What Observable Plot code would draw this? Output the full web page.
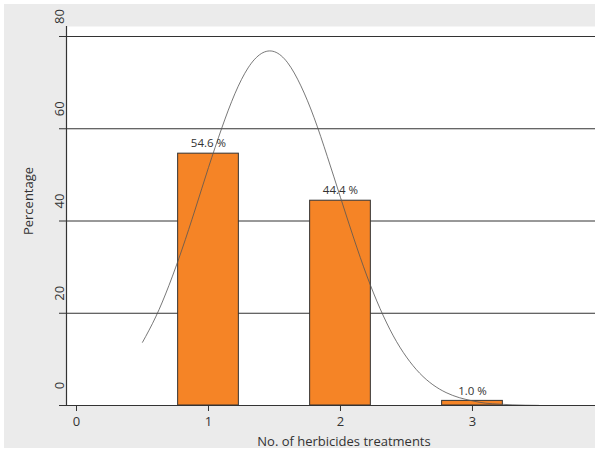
<!DOCTYPE html>
<html>
<head>
<meta charset="utf-8">
<script src="https://cdn.jsdelivr.net/npm/d3@7"></script>
<script src="https://cdn.jsdelivr.net/npm/@observablehq/plot@0.6"></script>
<style>
  html, body { margin: 0; padding: 0; background: #ffffff; }
  #wrap { padding: 4px 0 0 4px; width: 595px; height: 450px; box-sizing: border-box; }
  svg { font-family: "Open Sans", "Noto Sans", sans-serif; }
</style>
</head>
<body>
<div id="wrap"></div>
<script>
// Categories and values
const treatments = [1, 2, 3];
const percentages = [54.6, 44.4, 1.0];
const valueLabels = ["54.6 %", "44.4 %", "1.0 %"];
const xTicks = [0, 1, 2, 3];
const xTickLabels = ["0", "1", "2", "3"];
const yTicks = [0, 20, 40, 60, 80];
const yTickLabels = ["0", "20", "40", "60", "80"];
// Fitted normal curve
const curveX = [0.5, 0.6, 0.7, 0.8, 0.9, 1.0, 1.1, 1.2, 1.3, 1.4, 1.5, 1.6, 1.7, 1.8, 1.9, 2.0,
                2.1, 2.2, 2.3, 2.4, 2.5, 2.6, 2.7, 2.8, 2.9, 3.0, 3.1, 3.2, 3.3, 3.4, 3.5];
const curveY = [13.7, 19.2, 26.0, 33.9, 42.6, 51.6, 60.1, 67.6, 73.2, 76.3, 76.7, 74.3, 69.3, 62.4, 54.0, 45.1,
                36.3, 28.1, 21.0, 15.1, 10.5, 7.0, 4.5, 2.8, 1.7, 1.0, 0.5, 0.3, 0.15, 0.07, 0.03];

const bars = treatments.map((t, i) => ({t, p: percentages[i], label: valueLabels[i]}));
const curve = curveX.map((x, i) => ({x, y: curveY[i]}));
const halfW = 0.23;
const ink = "#333333";

const chart = Plot.plot({
  width: 591,
  height: 444,
  marginLeft: 62,
  marginTop: 22,
  marginRight: 0,
  marginBottom: 43,
  style: {background: "#ebebeb", overflow: "visible", fontFamily: "'Open Sans', 'Noto Sans', sans-serif"},
  x: {domain: [-0.0758, 3.932], axis: null},
  y: {domain: [0, 82.17], axis: null},
  marks: [
    Plot.frame({fill: "white", stroke: null}),
    Plot.ruleY(yTicks, {stroke: ink, strokeWidth: 1}),
    Plot.rectY(bars, {x1: d => d.t - halfW, x2: d => d.t + halfW, y: "p", fill: "#f58426", stroke: ink, strokeWidth: 1}),
    Plot.line(curve, {x: "x", y: "y", stroke: "#555", strokeWidth: 0.8, curve: "natural"}),
    Plot.text(bars, {x: "t", y: "p", text: "label", dy: -10, fontSize: 11.5, fill: ink, lineAnchor: "middle"}),
    Plot.frame({anchor: "left", stroke: ink, strokeWidth: 1.2}),
    Plot.frame({anchor: "bottom", stroke: ink, strokeWidth: 1.2}),
    Plot.axisY(yTicks, {tickSize: 7, tickFormat: () => "", stroke: ink, label: null}),
    Plot.text(yTicks, {y: d => d, text: (d, i) => yTickLabels[i], frameAnchor: "left", rotate: -90,
      dx: -3, dy: -20, textAnchor: "middle", lineAnchor: "bottom", fontSize: 13, fill: ink}),
    Plot.axisX(xTicks, {tickSize: 6, tickPadding: 5, fontSize: 13, stroke: ink, fill: ink, label: null,
      tickFormat: d => xTickLabels[xTicks.indexOf(d)]}),
    Plot.text(["Percentage"], {frameAnchor: "left", rotate: -90, dx: -38, dy: -15, textAnchor: "middle",
      lineAnchor: "middle", fontSize: 13, fill: ink}),
    Plot.text(["No. of herbicides treatments"], {frameAnchor: "bottom", dx: 13, dy: 36, textAnchor: "middle",
      lineAnchor: "middle", fontSize: 13, fill: ink})
  ]
});
document.getElementById("wrap").appendChild(chart);
</script>
</body>
</html>
